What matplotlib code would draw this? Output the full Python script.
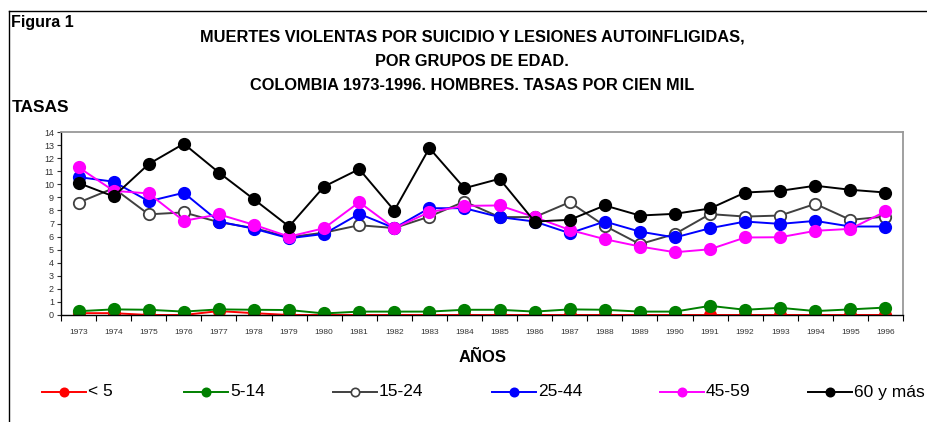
import numpy as np
import matplotlib as mpl
import matplotlib.pyplot as plt
from matplotlib.lines import Line2D
mpl.use('Agg')

plt.rcParams['font.family'] = ['Liberation Sans', 'DejaVu Sans']
narrow = ['Liberation Sans Narrow', 'Liberation Sans', 'DejaVu Sans']

# Data
years = [str(y) for y in range(1973, 1997)]
menos5 = [0.14, 0.14, 0.0, 0.0, 0.3, 0.14, 0.0, 0.0, 0.0, 0.0, 0.0, 0.0,
          0.0, 0.0, 0.0, 0.0, 0.0, 0.0, 0.0, 0.0, 0.0, 0.0, 0.0, 0.0]
g5_14 = [0.29, 0.43, 0.4, 0.26, 0.43, 0.4, 0.38, 0.12, 0.26, 0.26, 0.26, 0.4,
         0.4, 0.26, 0.43, 0.4, 0.26, 0.26, 0.7, 0.4, 0.55, 0.3, 0.43, 0.57]
g15_24 = [8.6, 9.7, 7.7, 7.85, 7.1, 6.65, 5.95, 6.3, 6.87, 6.65, 7.53, 8.68,
          7.49, 7.49, 8.63, 6.82, 5.42, 6.2, 7.72, 7.53, 7.61, 8.5, 7.28, 7.53]
g25_44 = [10.55, 10.2, 8.7, 9.35, 7.15, 6.6, 5.87, 6.2, 7.74, 6.65, 8.17, 8.17,
          7.49, 7.15, 6.26, 7.15, 6.38, 5.93, 6.64, 7.15, 6.97, 7.2, 6.77, 6.77]
g45_59 = [11.3, 9.5, 9.3, 7.2, 7.7, 6.9, 6.0, 6.64, 8.63, 6.64, 7.87, 8.35,
          8.38, 7.49, 6.51, 5.8, 5.24, 4.8, 5.03, 5.93, 5.95, 6.44, 6.59, 7.92]
g60 = [10.1, 9.07, 11.55, 13.1, 10.9, 8.85, 6.77, 9.83, 11.16, 7.99, 12.77, 9.7,
       10.42, 7.15, 7.28, 8.38, 7.61, 7.74, 8.15, 9.37, 9.5, 9.89, 9.58, 9.37]

labels = ['< 5', '5-14', '15-24', '25-44', '45-59', '60 y más']
colors = ['#ff0000', '#008000', '#404040', '#0000ff', '#ff00ff', '#000000']
series = [menos5, g5_14, g15_24, g25_44, g45_59, g60]

W, H = 927, 422
fig = plt.figure(figsize=(W / 100, H / 100), dpi=100)
ax = fig.add_axes([61 / W, 1 - 315 / H, 842 / W, 183 / H])

x = np.arange(len(years))
for vals, col, lab in zip(series, colors, labels):
    face = 'white' if lab == '15-24' else col
    ax.plot(x, vals, color=col, lw=1.4, marker='o', ms=8.2,
            mfc=face, mec=col, mew=1.3, label=lab)

ax.set_xlim(-0.5, len(years) - 0.5)
ax.set_ylim(0, 14)
ax.set_yticks(range(0, 15))
ax.tick_params(axis='y', labelsize=6.5, length=3, width=0.8, pad=2, colors='#333333')
ax.set_xticks(np.arange(-0.5, len(years), 1))
ax.set_xticklabels([])
ax.tick_params(axis='x', which='major', length=4, width=0.8, direction='out')
ax.set_xticks(x, minor=True)
ax.set_xticklabels(years, minor=True, fontsize=6, color='#333333', family=narrow)
ax.tick_params(axis='x', which='minor', length=0, pad=10)
for s in ['top', 'right']:
    ax.spines[s].set_color('#999999')
    ax.spines[s].set_linewidth(1.3)
for s in ['left', 'bottom']:
    ax.spines[s].set_color('black')
    ax.spines[s].set_linewidth(1.0)

# outer frame lines
fig.add_artist(Line2D([9 / W, 9 / W], [0, 1 - 11 / H], color='black', lw=1))
fig.add_artist(Line2D([9 / W, 1], [1 - 11 / H, 1 - 11 / H], color='black', lw=1))

fig.text(11 / W, 1 - 22 / H, 'Figura 1', fontsize=11.5, fontweight='bold', va='center')
titulo = ['MUERTES VIOLENTAS POR SUICIDIO Y LESIONES AUTOINFLIGIDAS,',
          'POR GRUPOS DE EDAD.',
          'COLOMBIA 1973-1996. HOMBRES. TASAS POR CIEN MIL']
for i, t in enumerate(titulo):
    fig.text(472 / W, 1 - (37 + 24 * i) / H, t, fontsize=11.8, fontweight='bold',
             ha='center', va='center')
fig.text(12 / W, 1 - 107 / H, 'TASAS', fontsize=12.5, fontweight='bold', va='center')
fig.text(483 / W, 1 - 357 / H, 'AÑOS', fontsize=12, fontweight='bold', ha='center', va='center')

# legend drawn by hand to match the original spacing
leg_x = [42, 184, 333, 492, 660, 808]
leg_y = 1 - 392 / H
for lx, col, lab in zip(leg_x, colors, labels):
    face = 'white' if lab == '15-24' else col
    fig.add_artist(Line2D([lx / W, (lx + 44) / W], [leg_y, leg_y], color=col, lw=1.4))
    fig.add_artist(Line2D([(lx + 22) / W], [leg_y], marker='o', ms=6, mfc=face,
                          mec=col, mew=1.2, color=col))
    fig.text((lx + 46) / W, leg_y, lab, fontsize=12.5, va='center', family=narrow)

plt.savefig('out.png', dpi=100)
